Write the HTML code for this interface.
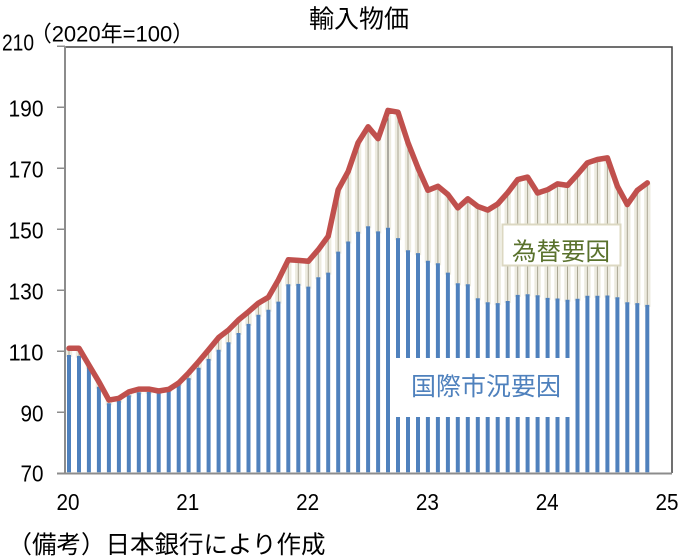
<!DOCTYPE html>
<html><head><meta charset="utf-8"><style>
html,body{margin:0;padding:0;background:#fff;}
svg{display:block;}
text{font-family:"Liberation Sans","Noto Sans CJK JP",sans-serif;fill:#000;}
</style></head><body>
<svg width="683" height="559" viewBox="0 0 683 559" xmlns="http://www.w3.org/2000/svg">
<rect width="683" height="559" fill="#fff"/>
<text x="359" y="27.5" font-size="25" text-anchor="middle">輸入物価</text>
<text x="29.7" y="41.7" font-size="22">（2020年=100）</text>
<g stroke="#edebe0" stroke-width="6.4" fill="none">
<path d="M69 348.3V357M79 348.3V357.9M88.9 365V368.6M98.9 381.8V388.7M108.9 400.1V405.2M118.9 398.3V402.7M128.8 391.9V397.2M138.8 389.1V394.2M148.8 389.1V393.9M158.7 391V393.9M168.7 389.4V392M178.7 383V385.9M188.6 373V380.1M198.6 361.7V369.8M208.6 349.8V360.9M218.6 337.6V351.8M228.5 330V344.2M238.5 319.9V335M248.5 311.7V325.9M258.4 303.1V316.7M268.4 297.3V311.8M278.4 279.9V303.6M288.3 259.8V286.2M298.3 260.4V285.9M308.3 261.3V288.6M318.3 249.7V279.2M328.2 236.3V274.6M338.2 189.7V253.6M348.2 171.4V243.5M358.1 142.7V233.7M368.1 126.8V228.3M378.1 138.7V233.4M388 110.4V229.8M398 112.2V240.1M408 142.7V252.3M418 168V255.1M427.9 190.3V262.7M437.9 186.3V265.2M447.9 194.5V274.6M457.8 207.9V285.3M467.8 198.8V286.2M477.8 206.4V300.2M487.7 210.1V304.2M497.7 204V305.1M507.7 192.7V303M517.7 179.6V296.9M527.6 177.1V296.3M537.6 193V297.2M547.6 189.7V299.9M557.5 183.9V300.5M567.5 185.4V301.8M577.5 174.4V300.8M587.4 162.8V297.8M597.4 159.5V297.8M607.4 157.9V297.5M617.4 186.3V299.3M627.3 204.6V304.2M637.3 190.3V305.1M647.3 182.9V306.9"/>
</g>
<g stroke="#aaa794" stroke-width="1" fill="none">
<path d="M69 348.3V355M79 348.3V355.9M88.9 365V366.6M98.9 381.8V386.7M108.9 400.1V403.2M118.9 398.3V400.7M128.8 391.9V395.2M138.8 389.1V392.2M148.8 389.1V391.9M168.7 389.4V390M178.7 383V383.9M188.6 373V378.1M198.6 361.7V367.8M208.6 349.8V358.9M218.6 337.6V349.8M228.5 330V342.2M238.5 319.9V333M248.5 311.7V323.9M258.4 303.1V314.7M268.4 297.3V309.8M278.4 279.9V301.6M288.3 259.8V284.2M298.3 260.4V283.9M308.3 261.3V286.6M318.3 249.7V277.2M328.2 236.3V272.6M338.2 189.7V251.6M348.2 171.4V241.5M358.1 142.7V231.7M368.1 126.8V226.3M378.1 138.7V231.4M398 112.2V238.1M408 142.7V250.3M418 168V253.1M427.9 190.3V260.7M437.9 186.3V263.2M447.9 194.5V272.6M457.8 207.9V283.3M467.8 198.8V284.2M477.8 206.4V298.2M487.7 210.1V302.2M497.7 204V303.1M507.7 192.7V301M517.7 179.6V294.9M527.6 177.1V294.3M537.6 193V295.2M547.6 189.7V297.9M557.5 183.9V298.5M567.5 185.4V299.8M577.5 174.4V298.8M587.4 162.8V295.8M597.4 159.5V295.8M607.4 157.9V295.5M617.4 186.3V297.3M627.3 204.6V302.2M637.3 190.3V303.1M647.3 182.9V304.9"/>
<path d="M388 110.4V227.8" stroke="#6b6a60"/>
</g>
<g stroke="#4f81bd" stroke-width="4" fill="none">
<path d="M69 355V472.3M79 355.9V472.3M88.9 366.6V472.3M98.9 386.7V472.3M108.9 403.2V472.3M118.9 400.7V472.3M128.8 395.2V472.3M138.8 392.2V472.3M148.8 391.9V472.3M158.7 391.9V472.3M168.7 390V472.3M178.7 383.9V472.3M188.6 378.1V472.3M198.6 367.8V472.3M208.6 358.9V472.3M218.6 349.8V472.3M228.5 342.2V472.3M238.5 333V472.3M248.5 323.9V472.3M258.4 314.7V472.3M268.4 309.8V472.3M278.4 301.6V472.3M288.3 284.2V472.3M298.3 283.9V472.3M308.3 286.6V472.3M318.3 277.2V472.3M328.2 272.6V472.3M338.2 251.6V472.3M348.2 241.5V472.3M358.1 231.7V472.3M368.1 226.3V472.3M378.1 231.4V472.3M388 227.8V472.3M398 238.1V472.3M408 250.3V472.3M418 253.1V472.3M427.9 260.7V472.3M437.9 263.2V472.3M447.9 272.6V472.3M457.8 283.3V472.3M467.8 284.2V472.3M477.8 298.2V472.3M487.7 302.2V472.3M497.7 303.1V472.3M507.7 301V472.3M517.7 294.9V472.3M527.6 294.3V472.3M537.6 295.2V472.3M547.6 297.9V472.3M557.5 298.5V472.3M567.5 299.8V472.3M577.5 298.8V472.3M587.4 295.8V472.3M597.4 295.8V472.3M607.4 295.5V472.3M617.4 297.3V472.3M627.3 302.2V472.3M637.3 303.1V472.3M647.3 304.9V472.3"/>
</g>
<!-- label boxes -->
<rect x="391" y="358" width="183" height="59" fill="#fff"/>
<text x="486" y="395" font-size="25" text-anchor="middle" style="fill:#4f81bd">国際市況要因</text>
<rect x="502.5" y="224.5" width="118" height="41" fill="#fff" stroke="#dcd8c2" stroke-width="2"/>
<text x="561" y="260" font-size="24.5" text-anchor="middle" style="fill:#5a722d">為替要因</text>
<!-- axes and frame -->
<path d="M64 47H672V473" stroke="#404040" stroke-width="1.5" fill="none"/>
<path d="M65 46V474" stroke="#8c8c8c" stroke-width="2" fill="none"/>
<path d="M57 473.5H672" stroke="#8c8c8c" stroke-width="2" fill="none"/>
<g stroke="#8c8c8c" stroke-width="1.5">
<path d="M57 46.3H65M57 107.3H65M57 168.3H65M57 229.3H65M57 290.3H65M57 351.3H65M57 412.3H65"/>
</g>
<!-- line -->
<polyline fill="none" stroke="#c0504d" stroke-width="5.5" stroke-linejoin="round" stroke-linecap="round" points="69,348.3 79,348.3 88.9,365 98.9,381.8 108.9,400.1 118.9,398.3 128.8,391.9 138.8,389.1 148.8,389.1 158.7,391 168.7,389.4 178.7,383 188.6,373 198.6,361.7 208.6,349.8 218.6,337.6 228.5,330 238.5,319.9 248.5,311.7 258.4,303.1 268.4,297.3 278.4,279.9 288.3,259.8 298.3,260.4 308.3,261.3 318.3,249.7 328.2,236.3 338.2,189.7 348.2,171.4 358.1,142.7 368.1,126.8 378.1,138.7 388,110.4 398,112.2 408,142.7 418,168 427.9,190.3 437.9,186.3 447.9,194.5 457.8,207.9 467.8,198.8 477.8,206.4 487.7,210.1 497.7,204 507.7,192.7 517.7,179.6 527.6,177.1 537.6,193 547.6,189.7 557.5,183.9 567.5,185.4 577.5,174.4 587.4,162.8 597.4,159.5 607.4,157.9 617.4,186.3 627.3,204.6 637.3,190.3 647.3,182.9"/>
<!-- y labels -->
<g font-size="23" text-anchor="end">
<text x="34" y="50.5" textLength="32" lengthAdjust="spacingAndGlyphs">210</text>
<text x="43.5" y="116.7" textLength="35" lengthAdjust="spacingAndGlyphs">190</text>
<text x="43.5" y="177.7" textLength="35" lengthAdjust="spacingAndGlyphs">170</text>
<text x="43.5" y="238.7" textLength="35" lengthAdjust="spacingAndGlyphs">150</text>
<text x="43.5" y="299.7" textLength="35" lengthAdjust="spacingAndGlyphs">130</text>
<text x="43.5" y="360.7" textLength="35" lengthAdjust="spacingAndGlyphs">110</text>
<text x="43.5" y="421.7" textLength="23" lengthAdjust="spacingAndGlyphs">90</text>
<text x="43.5" y="481.5" textLength="23" lengthAdjust="spacingAndGlyphs">70</text>
</g>
<!-- x labels -->
<g font-size="23" text-anchor="middle">
<text x="68" y="510" textLength="23" lengthAdjust="spacingAndGlyphs">20</text>
<text x="187.8" y="510" textLength="23" lengthAdjust="spacingAndGlyphs">21</text>
<text x="307.6" y="510" textLength="23" lengthAdjust="spacingAndGlyphs">22</text>
<text x="427.4" y="510" textLength="23" lengthAdjust="spacingAndGlyphs">23</text>
<text x="547.2" y="510" textLength="23" lengthAdjust="spacingAndGlyphs">24</text>
<text x="667" y="510" textLength="23" lengthAdjust="spacingAndGlyphs">25</text>
</g>
<text x="7.5" y="553" font-size="24.5">（備考）日本銀行により作成</text>
</svg>
</body></html>
